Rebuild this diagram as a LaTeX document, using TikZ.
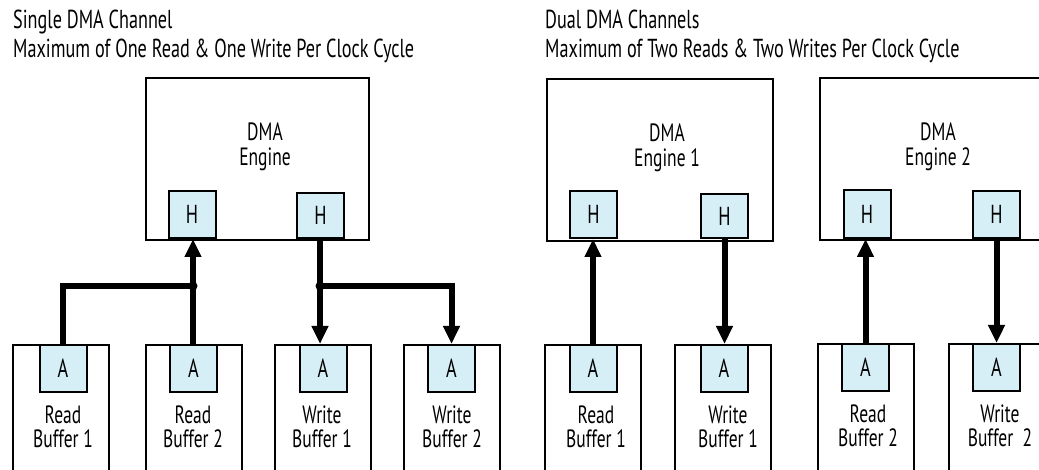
\documentclass[tikz,border=0pt]{standalone}
\usepackage{fontspec}
\setmainfont{PT Sans}[FakeStretch=0.70]
\usetikzlibrary{arrows.meta}
\definecolor{hbfill}{HTML}{D6EEF5}
\tikzset{
  frame/.style={draw=black, line width=2pt, fill=white, inner sep=0pt, anchor=north west},
  engine/.style={frame, minimum width=223pt, minimum height=162pt},
  buffer/.style={frame, minimum width=96pt, minimum height=200pt},
  port/.style={draw=black, line width=2pt, fill=hbfill, inner sep=0pt, minimum width=47pt, minimum height=47pt, font=\fontsize{26}{22}\selectfont},
  label/.style={align=center, inner sep=0pt, font=\fontsize{25}{24.5}\selectfont},
  title/.style={anchor=base west, inner sep=0pt, font=\fontsize{26}{22}\selectfont},
  bus/.style={line width=6pt},
  busarrow/.style={line width=6pt, -{Triangle[length=18pt, width=16pt]}},
  junction/.style={circle, fill=black, inner sep=0pt, minimum size=9pt}
}
\begin{document}
\begin{tikzpicture}[x=1pt, y=-1pt]
\useasboundingbox (0,0) rectangle (1039,470);
\clip (0,0) rectangle (1039,470);
% titles
\node[title] (t1) at (13,29) {Single DMA Channel};
\node[title] (t2) at (13,58) {Maximum of One Read \& One Write Per Clock Cycle};
\node[title] (t3) at (545,29) {Dual DMA Channels};
\node[title] (t4) at (545,58) {Maximum of Two Reads \& Two Writes Per Clock Cycle};
% engines
\node[engine] (e0) at (145,77) {};
\node[engine, minimum width=226pt] (e1) at (546,78) {};
\node[engine, minimum width=240pt] (e2) at (819,77) {};
\node[label] (e0t) at (265,147) {DMA\\Engine};
\node[label] (e1t) at (667,148) {DMA\\Engine 1};
\node[label] (e2t) at (938,147) {DMA\\Engine 2};
% host ports
\node[port, anchor=south] (h1) at (192,239) {H};
\node[port, anchor=south, minimum height=45pt] (h2) at (320.5,239) {H};
\node[port, anchor=south] (h3) at (593.5,239) {H};
\node[port, anchor=south, minimum height=44pt] (h4) at (724.5,239) {H};
\node[port, anchor=south, minimum height=48pt] (h5) at (867,239) {H};
\node[port, anchor=south] (h6) at (996.5,239) {H};
% buffers
\node[buffer] (b1) at (12,344) {};
\node[buffer] (b2) at (145,344) {};
\node[buffer] (b3) at (274,344) {};
\node[buffer] (b4) at (403,344) {};
\node[buffer] (b5) at (544,344) {};
\node[buffer] (b6) at (674,344) {};
\node[buffer] (b7) at (817,343) {};
\node[buffer] (b8) at (948,343) {};
% agent ports
\node[port, anchor=north] (a1) at (63,344) {A};
\node[port, anchor=north] (a2) at (193.5,344) {A};
\node[port, anchor=north] (a3) at (323,344) {A};
\node[port, anchor=north] (a4) at (451.5,344) {A};
\node[port, anchor=north] (a5) at (593,344) {A};
\node[port, anchor=north] (a6) at (724,344) {A};
\node[port, anchor=north] (a7) at (865.5,343) {A};
\node[port, anchor=north] (a8) at (996.5,343) {A};
% buffer labels
\node[label] (l1) at (63,427) {Read\\Buffer 1};
\node[label] (l2) at (193,427) {Read\\Buffer 2};
\node[label] (l3) at (322,427) {Write\\Buffer 1};
\node[label] (l4) at (452,427) {Write\\Buffer 2};
\node[label] (l5) at (596,427) {Read\\Buffer 1};
\node[label] (l6) at (728,427) {Write\\Buffer 1};
\node[label] (l7) at (868,426) {Read\\Buffer 2};
\node[label] (l8) at (1000,426) {Write\\Buffer\ \ 2};
% single channel connectors
\coordinate (j1) at (193,286);
\coordinate (j2) at (320,286);
\draw[bus] (a1.north) |- (j1);
\draw[busarrow] (j1 |- a2.north) -- (j1 |- h1.south);
\draw[busarrow] (j2 |- h2.south) -- (j2 |- a3.north);
\draw[busarrow] (j2) -| (a4.north);
\node[junction] (d1) at (j1) {};
\node[junction] (d2) at (j2) {};
% dual channel connectors
\draw[busarrow] (a5.north) -- (a5.north |- h3.south);
\draw[busarrow] (h4.south) -- (h4.south |- a6.north);
\draw[busarrow] (a7.north) -- (a7.north |- h5.south);
\draw[busarrow] (h6.south) -- (h6.south |- a8.north);
\end{tikzpicture}
\end{document}
